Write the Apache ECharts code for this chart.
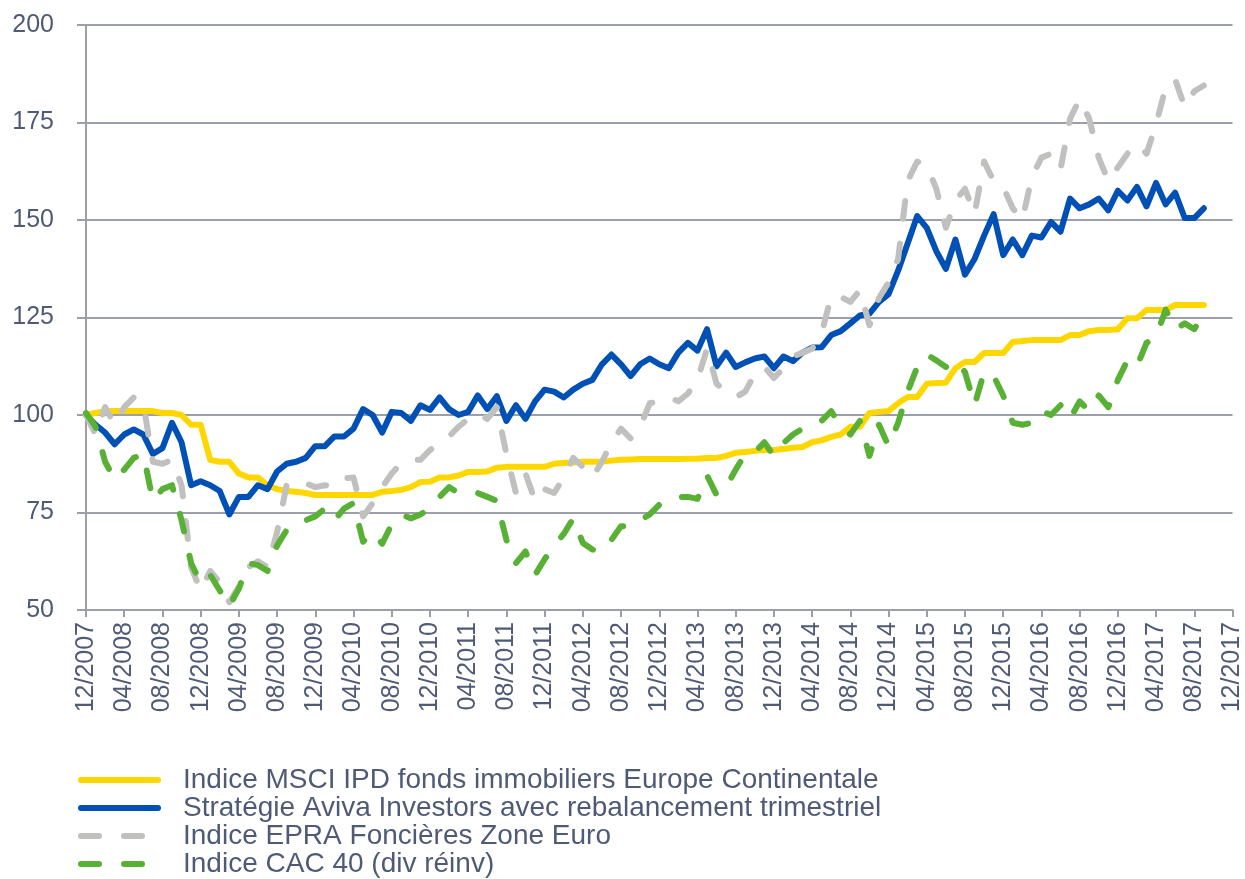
<!DOCTYPE html>
<html>
<head>
<meta charset="utf-8">
<title>Aviva - performance comparée</title>
<script src="https://cdn.jsdelivr.net/npm/echarts@6/dist/echarts.min.js"></script>
<style>
html,body{margin:0;padding:0;background:#fff;}
#chart{width:1245px;height:879px;}
</style>
</head>
<body>
<div id="chart"></div>
<script>
// mois de 12/2007 a 12/2017, une etiquette tous les 4 mois
var startYear = 2007, startMonth = 12, nbMonths = 121;
var months = [];
for(var i=0;i<nbMonths;i++){
    var m = (startMonth - 1 + i) % 12 + 1;
    var y = startYear + Math.floor((startMonth - 1 + i) / 12);
    months.push((m < 10 ? '0' + m : '' + m) + '/' + y);
}

var seriesNames = [
    'Indice MSCI IPD fonds immobiliers Europe Continentale',
    'Stratégie Aviva Investors avec rebalancement trimestriel',
    'Indice EPRA Foncières Zone Euro',
    'Indice CAC 40 (div réinv)'
];

var msci = [100,100.5,101,101,101,101,101,101,100.5,100.5,
    100,97.5,97.5,88.5,88,88,85,84,84,82,
    81,80.5,80.3,80,79.5,79.5,79.5,79.5,79.5,79.5,
    79.5,80.3,80.5,80.8,81.5,82.8,82.9,84,84,84.5,
    85.4,85.4,85.5,86.5,86.7,86.7,86.7,86.7,86.7,87.5,
    87.7,87.8,88,88,88,88.3,88.5,88.6,88.7,88.7,
    88.7,88.7,88.7,88.8,88.8,89,89,89.5,90.3,90.5,
    90.8,91,91,91.3,91.6,91.8,93,93.5,94.4,95,
    97,97,100.5,100.8,101,103,104.6,104.6,108,108.2,
    108.3,112,113.6,113.6,115.9,115.9,115.9,118.7,119,119.2,
    119.2,119.2,119.2,120.5,120.5,121.5,121.8,121.8,122,124.8,
    124.8,126.9,126.9,126.9,128.2,128.2,128.2,128.2];

var aviva = [100,97.5,95.5,92.5,95,96.3,95,90,91.5,98,
    93,82,83,82,80.5,74.5,79,79,82,81,
    85.5,87.5,88,89,92,92,94.5,94.5,96.5,101.5,
    100,95.5,100.8,100.5,98.5,102.5,101.3,104.5,101.5,100,
    100.8,105,101.5,104.8,98.5,102.5,99,103.5,106.5,106,
    104.5,106.5,108,109,113,115.5,113,110,113,114.5,
    113,112,116,118.5,116.5,122,112.5,116,112.3,113.5,
    114.5,115,112,115,113.8,116,117.3,117.4,120.5,121.5,
    123.5,125.5,126,129,131,137,144,151,148,142,
    137.5,145,136,140,146,151.5,141,145,141,146,
    145.5,149.5,147,155.5,153,154,155.5,152.5,157.5,155,
    158.5,153.5,159.5,154,157,150.5,150.5,153];

var epra = [100,95,102,97.5,102,104.5,103,88,87.5,88.5,
    82,61,55,60,57,52,56,61,62.5,61,
    70,82,83.3,82.5,81.5,82,81.5,83.8,84,74,
    77.4,81.5,85,87.7,88.5,88.5,91,93,94.5,97,
    99,100.5,99,102,90,80,85,78,81,80,
    84,89,86.7,84,88,93,96.5,94,97,103,
    103.5,104.6,103.5,105.5,109,117,108,106,104.5,106,
    110.5,112.3,109.5,112,115,116,117,121,130.5,130.3,
    129,132,123,130,134,140,160,165,164,158,
    148,155,158,151.5,165,160,158.5,153,150,161,
    166,167,163,176,181,176,166,160,163.5,167,
    169.5,167,174.5,184,186,179,183,184.5];

var cac40 = [100.5,97,88,83.5,86,89,90,78,81,82,
    73,62,57,59,55,51,55.5,62,61.5,60,
    66.5,70.5,72.5,73,74,76,73,76,77.4,67.5,
    70,67,72,74.5,73.5,74.5,76,79,81.5,80,
    80.3,80,79,78,68,62,65,59,63,66.5,
    69.5,73.5,67.2,65.5,65,68,71.5,71.5,73,74.5,
    77,78.5,79,79,78.5,84.5,79.5,81.5,86,90,
    90.5,93,89.5,92.8,95,96.5,97,98.5,101,97,
    95,98.5,89.5,97.5,92,98,106,112.3,115.5,114,
    112.3,114,111,102.5,111,110,105,98,97.5,98,
    101,100,102.5,99,103.5,101,105,102,109,114,
    112.5,118.5,120,127,122,123.5,122,126];

var textColor = '#4f5b76';
var axisColor = '#9c9ea9';
var font = 'Liberation Sans, Arial, sans-serif';

function lineSerie(name,data,color,dashed){
    return {
        name:name,
        type:'line',
        data:data,
        symbol:'none',
        smooth:false,
        lineStyle:{
            color:color,
            width:6,
            cap:'round',
            join:'round',
            type:dashed ? [18,25] : 'solid'
        },
        itemStyle:{color:color}
    };
}

var chart = echarts.init(document.getElementById('chart'));
var option = {
    animation:false,
    backgroundColor:'#ffffff',
    grid:{
        left:86,
        right:11,
        top:25,
        bottom:269
    },
    legend:{
        orient:'vertical',
        left:78,
        top:766,
        padding:0,
        itemWidth:77,
        itemHeight:14,
        itemGap:0,
        data:seriesNames,
        // on masque le petit rond du symbole, on ne garde que le trait
        itemStyle:{color:'rgba(0,0,0,0)',borderColor:'rgba(0,0,0,0)',borderWidth:0},
        lineStyle:{width:6,cap:'round'},
        textStyle:{
            color:textColor,
            fontFamily:font,
            fontSize:28,
            lineHeight:28,
            padding:[0,0,0,20]
        }
    },
    xAxis:{
        type:'category',
        data:months,
        boundaryGap:false,
        axisLine:{lineStyle:{color:axisColor,width:2}},
        axisTick:{
            interval:3,
            length:7,
            lineStyle:{color:axisColor,width:2}
        },
        axisLabel:{
            interval:3,
            rotate:90,
            margin:12,
            color:textColor,
            fontFamily:font,
            fontSize:25
        },
        splitLine:{show:false}
    },
    yAxis:{
        type:'value',
        min:50,
        max:200,
        interval:25,
        axisLine:{show:true,lineStyle:{color:axisColor,width:2}},
        axisTick:{show:true,length:9,lineStyle:{color:axisColor,width:2}},
        axisLabel:{
            margin:32,
            color:textColor,
            fontFamily:font,
            fontSize:25
        },
        splitLine:{lineStyle:{color:axisColor,width:2}}
    },
    series:[
        lineSerie(seriesNames[0],msci,'#ffd700',false),
        lineSerie(seriesNames[1],aviva,'#0050b5',false),
        lineSerie(seriesNames[2],epra,'#c0c1be',true),
        lineSerie(seriesNames[3],cac40,'#58b135',true)
    ]
};
chart.setOption(option);
</script>
</body>
</html>
